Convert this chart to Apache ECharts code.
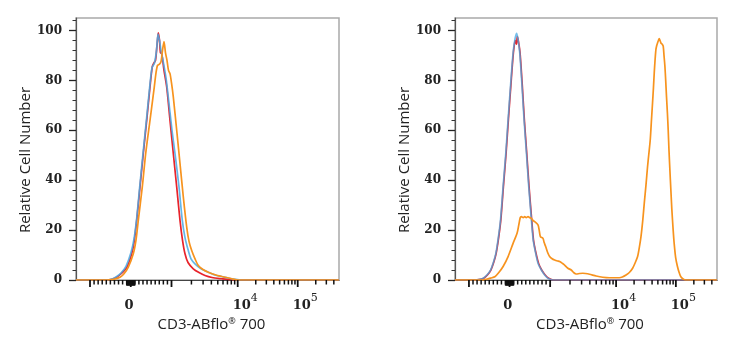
<!DOCTYPE html>
<html><head><meta charset="utf-8">
<script src="https://cdn.jsdelivr.net/npm/echarts@6/dist/echarts.min.js"></script>
<style>html,body{margin:0;padding:0;background:#fff}#c{width:750px;height:350px}</style>
</head><body><div id="c"></div>
<script>
// ---------- axis ticks / labels ----------
const Y_TICKS = [0, 20, 40, 60, 80, 100];
const Y_MINOR = [4, 8, 12, 16, 24, 28, 32, 36, 44, 48, 52, 56, 64, 68, 72, 76, 84, 88, 92, 96, 104];
const X_MAJOR = [-1000, 0, 1000, 10000, 100000];
const X_MINOR = [-900, -800, -700, -600, -500, -400, -300, -200, -100,
  100, 200, 300, 400, 500, 600, 700, 800, 900,
  2000, 3000, 4000, 5000, 6000, 7000, 8000, 9000,
  20000, 30000, 40000, 50000, 60000, 70000, 80000, 90000,
  200000, 300000, 400000];
const X_NEAR0 = [-100, -90, -80, -70, -60, -50, -40, -30, -20, -10, 0, 10, 20, 30, 40, 50, 60, 70, 80, 90, 100];
const X_LABEL_VALUES = [0, 10000, 100000];
const X_LABEL_BASE = ['0', '10', '10'];
const X_LABEL_EXP = ['', '4', '5'];
const X_TITLE = 'CD3-ABflo';
const X_TITLE_SUP = '®';
const X_TITLE_END = ' 700';
const Y_TITLE = 'Relative Cell Number';
const CH_MAX = 263;   // display channels across the plot

// ---------- histograms: [display channel, relative count] ----------
const L_red = [[0,0],[30,0],[36,0.3],[40.7,1.1],[45,2.5],[50.7,5],[55.7,10.5],[58,15],[60.7,23.9],[64,37.3],[67.3,50.7],[70.7,64],[74,77.4],[76.3,85.5],[78,87],[79.5,88],[81,94],[82.3,99],[83.5,96],[84.5,91],[85.7,90.8],[88,84],[90.7,77.4],[94,64],[97.3,50.7],[100.7,37.3],[104,23.9],[106.5,16],[109,10.5],[112,7],[117.3,4.5],[123,3],[129,1.8],[136,1],[145.7,0.5],[155,0.1],[165,0],[263,0]];
const L_blue = [[0,0],[30,0],[36,0.4],[40,1.2],[45,2.8],[50,5.5],[55,11],[58,16.5],[60.5,24],[63.7,37.3],[67,50.7],[70.4,64],[73.7,77.4],[76,85],[78.5,87],[80.5,92],[82,98.5],[83.5,96],[85,92],[87,88],[90,81],[93,70.7],[96,60],[99,50.7],[103,37.3],[106.3,23.9],[109,17],[112.3,11.8],[115,8.5],[119,6.5],[125,4.5],[132.3,3.1],[139,2],[145.7,1.4],[152,0.8],[159,0.3],[165,0],[263,0]];
const L_orange = [[0,0],[30,0],[38,0.3],[44,1.1],[48,2.5],[52.3,5.2],[57.3,10.5],[60,16],[62.3,23.9],[66.3,37.3],[69.7,50.7],[74,64],[78.3,77.4],[80,83],[81.5,86],[83.5,86.5],[85,87.5],[86.5,92],[88,95.5],[89.5,91],[91,88],[92.5,84],[94,82.7],[95.5,79],[97.3,73.4],[100.7,60],[104,46.7],[107.3,33.3],[110.7,21.2],[113,15.5],[115.7,11.8],[119,8.5],[122.3,5.8],[127,4.2],[132.3,3.1],[140,2],[149,1.1],[156,0.5],[162.3,0],[263,0]];

const R_red = [[0,0],[20,0],[25.5,0.3],[28.8,0.7],[32.5,2],[36,4],[38.8,7],[41.3,10.7],[43.8,17],[46,24.1],[48.6,37.5],[51.3,50.9],[53.6,64.3],[56,77.6],[58.6,91],[60.5,96],[61.8,94.5],[62.5,97.5],[63.5,96],[65.3,91],[67.6,77.6],[69.6,64.3],[72,50.9],[74.3,37.5],[77,24.1],[78.8,16],[81.3,10.7],[84,6.5],[87,4],[90.5,2],[94,0.7],[99,0],[263,0]];
const R_blue = [[0,0],[20,0],[25,0.3],[28.3,0.7],[32,2],[35.7,4],[38.5,7],[41,10.7],[43.5,17],[45.7,24.1],[48.3,37.5],[51,50.9],[53.3,64.3],[55.7,77.6],[58.3,91],[60,96],[61.7,98.8],[63,97],[65,91],[67.3,77.6],[69.3,64.3],[71.7,50.9],[74,37.5],[76.7,24.1],[78.5,16],[81,10.7],[83.5,6.5],[86.7,4],[90,2],[93.3,0.7],[98.3,0],[263,0]];
const R_orange = [[0,0],[28,0],[31.7,0.3],[36,0.8],[40,1.3],[44,3],[48.3,5.4],[53.3,9.4],[58.3,14.7],[62.3,18.7],[64,22],[65.5,25],[66.7,25.4],[68.5,25],[70,25.4],[71.5,25],[73.3,25.4],[75,25],[76.5,24.8],[78,24],[80,23.4],[83.3,22.1],[84.5,20],[85.7,17.4],[88.3,16.7],[89.5,15],[91,13.4],[93,11],[95,9.4],[97.5,8.5],[100,8],[103,7.6],[105,7.4],[108,6.6],[110,6],[113.3,4.7],[116.7,4],[119,3],[121.7,2.4],[125,2.6],[128.3,2.7],[131,2.6],[135,2.3],[141.7,1.6],[148.3,1.1],[155,0.9],[165,0.9],[168,1.2],[171.7,2],[175,3],[178.3,4.7],[181,7],[183.3,9.4],[185,13],[186.7,17.4],[188.5,24],[190,30.8],[191.7,38],[193.3,45.5],[194.7,51],[196,56.2],[197.2,64],[198.3,71],[199.2,77],[200,83],[200.8,88],[201.7,92.4],[202.5,94],[203.3,95],[204.2,96],[205,96.7],[205.8,96],[206.7,95],[208,94.5],[209,93.7],[209.8,90],[210.7,85.7],[211.5,80],[212.3,73.6],[213.2,67],[214,60.2],[214.8,52],[215.7,44.2],[216.7,36],[217.7,28.1],[219,20],[220,14.7],[221.5,9],[223.3,5.4],[225,3],[226.7,1.3],[229,0.4],[231.7,0],[263,0]];

// ---------- biexponential-like display transform (value -> channel) ----------
function T(v) {
  const a = Math.abs(v), s = v < 0 ? -1 : 1;
  if (a <= 1000) return 54.75 + 0.04075 * v;
  if (a <= 10000) return 54.75 + s * (40.75 + 66.2 * Math.log10(a / 1000));
  return 54.75 + s * (106.95 + 60 * Math.log10(a / 10000));
}

const RED = '#e8232b', BLUE = '#4aa9e4', ORANGE = '#f7931e';
const TICK_FONT = 'DejaVu Serif';
const SANS = '"Open Sans", "Noto Sans", sans-serif';

const chart = echarts.init(document.getElementById('c'), null, {renderer: 'canvas'});

const grids = [
  {left: 76, top: 18, width: 263, height: 262},
  {left: 455, top: 18, width: 262, height: 262}
];

const labelPos = X_LABEL_VALUES.map(T);
function xLabel(val) {
  let best = 0, bd = 1e9;
  labelPos.forEach((p, i) => { const d = Math.abs(p - val); if (d < bd) { bd = d; best = i; } });
  if (X_LABEL_EXP[best] === '') return '{z|' + X_LABEL_BASE[best] + '}{s| }';
  return '{b|' + X_LABEL_BASE[best] + '}{s|' + X_LABEL_EXP[best] + '}';
}

const xAxes = [], yAxes = [];
grids.forEach((g, gi) => {
  xAxes.push({
    type: 'value', gridIndex: gi, min: 0, max: CH_MAX, splitLine: {show: false}, position: 'bottom',
    axisLine: {show: true, onZero: false, lineStyle: {color: '#444', width: 1.2}},
    axisTick: {show: false},
    axisLabel: {
      show: true, interval: 0, margin: 13, customValues: labelPos, formatter: xLabel,
      rich: {
        z: {fontFamily: TICK_FONT, fontSize: 13, fontWeight: 'bold', color: '#222', verticalAlign: 'bottom'},
        b: {fontFamily: TICK_FONT, fontSize: 13, fontWeight: 'bold', color: '#222', verticalAlign: 'bottom', padding: [0, 0, 0, 15]},
        s: {fontFamily: TICK_FONT, fontSize: 11, color: '#222', verticalAlign: 'bottom', padding: [0, 0, 8, 0]}
      }
    },
    name: '{a|' + X_TITLE + '}{r|' + X_TITLE_SUP + '}{a|' + X_TITLE_END + '}',
    nameLocation: 'middle', nameGap: 35,
    nameTextStyle: {
      padding: [0, 0, 0, 8],
      rich: {
        a: {fontFamily: SANS, fontSize: 15, color: '#222', verticalAlign: 'bottom'},
        r: {fontFamily: SANS, fontSize: 9, color: '#222', verticalAlign: 'bottom', padding: [0, 0, 6, 0]}
      }
    }
  });
  const ybase = {type: 'value', gridIndex: gi, min: 0, max: 105, splitLine: {show: false}, position: 'left'};
  yAxes.push(Object.assign({}, ybase, {
    axisLine: {show: true, onZero: false, lineStyle: {color: '#555', width: 1.2}},
    axisTick: {show: true, interval: 0, length: 7, customValues: Y_TICKS, lineStyle: {color: '#222', width: 1.3}},
    axisLabel: {show: true, interval: 0, customValues: Y_TICKS, margin: 14, fontFamily: TICK_FONT, fontSize: 12, fontWeight: 'bold', color: '#222'},
    name: Y_TITLE, nameLocation: 'middle', nameGap: 42,
    nameTextStyle: {fontFamily: SANS, fontSize: 15, color: '#222', padding: [0, 22, 0, 0]}
  }));
  yAxes.push(Object.assign({}, ybase, {
    axisLine: {show: false}, axisLabel: {show: false, interval: 0},
    axisTick: {show: true, interval: 0, length: 3.5, customValues: Y_MINOR, lineStyle: {color: '#333', width: 1}}
  }));
});

function line(data, color, gi, opacity, z) {
  return {
    type: 'line', data: data, xAxisIndex: gi, yAxisIndex: gi * 2,
    showSymbol: false, smooth: 0.25, z: z, silent: true,
    lineStyle: {color: color, width: 1.7, opacity: opacity}
  };
}

// x-axis ticks of the biexponential scale, placed through the axis scale
function tickSeries(values, len, width, gi) {
  return {
    type: 'custom', xAxisIndex: gi, yAxisIndex: gi * 2, silent: true, clip: false, z: 6,
    data: values.map(T).filter(c => c >= 0 && c <= CH_MAX).map(c => [c, 0]),
    renderItem: function (params, api) {
      const p = api.coord([api.value(0), api.value(1)]);
      return {type: 'line', shape: {x1: p[0], y1: p[1], x2: p[0], y2: p[1] + len},
        style: {stroke: '#111', lineWidth: width}};
    }
  };
}

const series = [
  line(L_red, RED, 0, 1, 2),
  line(L_blue, BLUE, 0, 0.85, 3),
  line(L_orange, ORANGE, 0, 1, 4),
  line(R_red, RED, 1, 1, 2),
  line(R_blue, BLUE, 1, 0.75, 3),
  line(R_orange, ORANGE, 1, 1, 4)
];
[0, 1].forEach(gi => {
  series.push(tickSeries(X_MAJOR, 7, 1.8, gi));
  series.push(tickSeries(X_MINOR, 4.5, 1.5, gi));
  series.push(tickSeries(X_NEAR0, 5.5, 1.3, gi));
});

chart.setOption({
  animation: false,
  grid: grids.map(g => Object.assign({show: true, borderColor: '#a9a9a9', borderWidth: 1.5, backgroundColor: '#fff'}, g)),
  xAxis: xAxes,
  yAxis: yAxes,
  series: series
});
</script>
</body></html>
